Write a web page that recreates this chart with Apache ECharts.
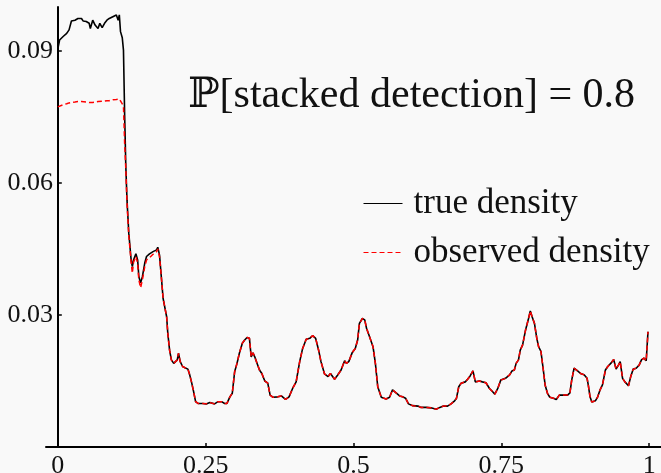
<!DOCTYPE html>
<html>
<head>
<meta charset="utf-8">
<style>
  html, body { margin: 0; padding: 0; background: #f9f9f9; }
  #chart { width: 661px; height: 473px; }
</style>
<script src="https://cdn.jsdelivr.net/npm/echarts@6/dist/echarts.min.js"></script>
</head>
<body>
<div id="chart"></div>
<script>
// Position on the unit interval
const xs = [
  0.000,0.003,0.009,0.015,0.019,0.023,0.029,0.034,0.037,0.040,
  0.043,0.048,0.053,0.055,0.059,0.063,0.065,0.068,0.071,0.075,
  0.079,0.083,0.087,0.090,0.093,0.096,0.099,0.102,0.104,0.106,
  0.109,0.111,0.113,0.115,0.117,0.120,0.124,0.126,0.128,0.132,
  0.135,0.137,0.140,0.143,0.147,0.150,0.153,0.155,0.158,0.161,
  0.164,0.167,0.169,0.172,0.175,0.178,0.181,0.184,0.186,0.189,
  0.192,0.196,0.199,0.202,0.204,0.207,0.211,0.215,0.220,0.223,
  0.226,0.229,0.233,0.237,0.245,0.251,0.257,0.265,0.271,0.277,
  0.282,0.286,0.291,0.295,0.299,0.303,0.307,0.312,0.316,0.320,
  0.324,0.327,0.330,0.333,0.337,0.341,0.345,0.350,0.355,0.359,
  0.364,0.372,0.378,0.385,0.391,0.397,0.403,0.409,0.414,0.420,
  0.426,0.431,0.436,0.441,0.445,0.451,0.457,0.461,0.464,0.468,
  0.473,0.479,0.485,0.488,0.492,0.498,0.503,0.507,0.510,0.515,
  0.519,0.522,0.527,0.533,0.537,0.541,0.547,0.555,0.561,0.566,
  0.572,0.578,0.583,0.588,0.593,0.600,0.609,0.614,0.623,0.631,
  0.640,0.646,0.652,0.659,0.665,0.671,0.674,0.678,0.682,0.689,
  0.693,0.697,0.702,0.706,0.713,0.718,0.724,0.730,0.735,0.739,
  0.744,0.749,0.757,0.764,0.768,0.772,0.775,0.779,0.782,0.786,
  0.789,0.791,0.796,0.799,0.802,0.806,0.810,0.813,0.817,0.821,
  0.824,0.828,0.832,0.838,0.843,0.848,0.851,0.856,0.862,0.866,
  0.869,0.873,0.879,0.884,0.890,0.895,0.897,0.900,0.903,0.909,
  0.913,0.917,0.921,0.926,0.930,0.935,0.940,0.944,0.948,0.951,
  0.955,0.959,0.965,0.969,0.973,0.978,0.983,0.987,0.991,0.995,
  0.998
];

// True density
const trueDensity = [
  0.0905,0.0925,0.0933,0.0940,0.0948,0.0968,0.0970,0.0974,0.0970,0.0974,
  0.0968,0.0967,0.0963,0.0951,0.0970,0.0959,0.0963,0.0951,0.0963,0.0953,
  0.0963,0.0970,0.0974,0.0970,0.0978,0.0974,0.0982,0.0970,0.0982,0.0944,
  0.0930,0.0902,0.0755,0.0637,0.0561,0.0486,0.0425,0.0410,0.0425,0.0439,
  0.0425,0.0387,0.0373,0.0387,0.0418,0.0433,0.0433,0.0439,0.0437,0.0444,
  0.0442,0.0448,0.0454,0.0436,0.0387,0.0338,0.0334,0.0296,0.0258,0.0220,
  0.0198,0.0190,0.0186,0.0198,0.0213,0.0194,0.0183,0.0180,0.0177,0.0164,
  0.0148,0.0130,0.0103,0.0099,0.0099,0.0098,0.0101,0.0098,0.0103,0.0103,
  0.0099,0.0099,0.0114,0.0122,0.0171,0.0190,0.0213,0.0236,0.0243,0.0249,
  0.0247,0.0205,0.0214,0.0205,0.0190,0.0175,0.0167,0.0150,0.0145,0.0118,
  0.0113,0.0114,0.0116,0.0108,0.0114,0.0133,0.0148,0.0194,0.0224,0.0245,
  0.0247,0.0253,0.0247,0.0220,0.0194,0.0166,0.0160,0.0167,0.0163,0.0154,
  0.0163,0.0175,0.0196,0.0190,0.0194,0.0215,0.0224,0.0243,0.0281,0.0292,
  0.0289,0.0270,0.0251,0.0228,0.0190,0.0137,0.0113,0.0109,0.0113,0.0130,
  0.0123,0.0116,0.0114,0.0111,0.0098,0.0094,0.0093,0.0090,0.0090,0.0089,
  0.0086,0.0090,0.0093,0.0093,0.0098,0.0105,0.0110,0.0137,0.0145,0.0148,
  0.0154,0.0161,0.0173,0.0148,0.0150,0.0148,0.0146,0.0133,0.0126,0.0120,
  0.0133,0.0152,0.0156,0.0164,0.0173,0.0175,0.0190,0.0198,0.0220,0.0232,
  0.0236,0.0266,0.0292,0.0309,0.0296,0.0281,0.0247,0.0228,0.0217,0.0175,
  0.0141,0.0122,0.0113,0.0111,0.0108,0.0118,0.0122,0.0118,0.0118,0.0123,
  0.0152,0.0179,0.0173,0.0167,0.0164,0.0156,0.0141,0.0114,0.0102,0.0105,
  0.0114,0.0130,0.0141,0.0175,0.0183,0.0190,0.0199,0.0177,0.0186,0.0194,
  0.0156,0.0148,0.0139,0.0161,0.0177,0.0179,0.0186,0.0198,0.0202,0.0196,
  0.0262
];

// Observed density
const observedDensity = [
  0.0773,0.0775,0.0778,0.0780,0.0782,0.0783,0.0784,0.0785,0.0785,0.0785,
  0.0784,0.0784,0.0783,0.0782,0.0783,0.0784,0.0784,0.0785,0.0785,0.0786,
  0.0786,0.0787,0.0787,0.0788,0.0789,0.0789,0.0790,0.0791,0.0791,0.0789,
  0.0780,0.0775,0.0690,0.0630,0.0555,0.0480,0.0420,0.0395,0.0420,0.0433,
  0.0418,0.0380,0.0362,0.0380,0.0410,0.0425,0.0428,0.0430,0.0432,0.0438,
  0.0440,0.0444,0.0450,0.0432,0.0387,0.0338,0.0334,0.0296,0.0258,0.0220,
  0.0198,0.0190,0.0186,0.0198,0.0213,0.0194,0.0183,0.0180,0.0177,0.0164,
  0.0148,0.0130,0.0103,0.0099,0.0099,0.0098,0.0101,0.0098,0.0103,0.0103,
  0.0099,0.0099,0.0114,0.0122,0.0171,0.0190,0.0213,0.0236,0.0243,0.0249,
  0.0247,0.0205,0.0214,0.0205,0.0190,0.0175,0.0167,0.0150,0.0145,0.0118,
  0.0113,0.0114,0.0116,0.0108,0.0114,0.0133,0.0148,0.0194,0.0224,0.0245,
  0.0247,0.0253,0.0247,0.0220,0.0194,0.0166,0.0160,0.0167,0.0163,0.0154,
  0.0163,0.0175,0.0196,0.0190,0.0194,0.0215,0.0224,0.0243,0.0281,0.0292,
  0.0289,0.0270,0.0251,0.0228,0.0190,0.0137,0.0113,0.0109,0.0113,0.0130,
  0.0123,0.0116,0.0114,0.0111,0.0098,0.0094,0.0093,0.0090,0.0090,0.0089,
  0.0086,0.0090,0.0093,0.0093,0.0098,0.0105,0.0110,0.0137,0.0145,0.0148,
  0.0154,0.0161,0.0173,0.0148,0.0150,0.0148,0.0146,0.0133,0.0126,0.0120,
  0.0133,0.0152,0.0156,0.0164,0.0173,0.0175,0.0190,0.0198,0.0220,0.0232,
  0.0236,0.0266,0.0292,0.0309,0.0296,0.0281,0.0247,0.0228,0.0217,0.0175,
  0.0141,0.0122,0.0113,0.0111,0.0108,0.0118,0.0122,0.0118,0.0118,0.0123,
  0.0152,0.0179,0.0173,0.0167,0.0164,0.0156,0.0141,0.0114,0.0102,0.0105,
  0.0114,0.0130,0.0141,0.0175,0.0183,0.0190,0.0199,0.0177,0.0186,0.0194,
  0.0156,0.0148,0.0139,0.0161,0.0177,0.0179,0.0186,0.0198,0.0202,0.0196,
  0.0262
];

const xTicks = [0, 0.25, 0.5, 0.75, 1];
const yTicks = [0.03, 0.06, 0.09];
const seriesNames = ['true density', 'observed density'];
const titleText = 'ℙ[stacked detection] = 0.8';

const pairs = ys => xs.map((x, i) => [x, ys[i]]);

const serif = '"Liberation Serif", "DejaVu Serif", serif';
const chart = echarts.init(document.getElementById('chart'), null, { renderer: 'canvas' });

chart.setOption({
  backgroundColor: '#f9f9f9',
  animation: false,
  grid: { left: 46, right: 0, top: 7, bottom: 26, containLabel: false, outerBoundsMode: 'none' },
  xAxis: {
    type: 'value',
    min: -0.02,
    max: 1.02,
    splitLine: { show: false },
    axisLine: { show: true, onZero: true, lineStyle: { color: '#000', width: 2 } },
    axisTick: { show: true, inside: true, length: 4, customValues: xTicks, lineStyle: { color: '#000', width: 1.5 } },
    axisLabel: {
      customValues: xTicks,
      formatter: v => String(v),
      color: '#111', fontFamily: serif, fontSize: 26, margin: 6
    }
  },
  yAxis: {
    type: 'value',
    min: 0,
    max: 0.1,
    splitLine: { show: false },
    axisLine: { show: true, onZero: true, lineStyle: { color: '#000', width: 2 } },
    axisTick: { show: true, inside: true, length: 4, customValues: yTicks, lineStyle: { color: '#000', width: 1.5 } },
    axisLabel: {
      customValues: yTicks,
      formatter: v => String(v),
      color: '#111', fontFamily: serif, fontSize: 26, margin: -7
    }
  },
  legend: {
    orient: 'vertical',
    left: 363,
    top: 186,
    padding: 0,
    itemWidth: 39,
    itemHeight: 14,
    itemGap: 14,
    data: [
      { name: seriesNames[0] },
      { name: seriesNames[1] }
    ],
    itemStyle: { opacity: 0 },
    lineStyle: { width: 1 },
    textStyle: { color: '#111', fontFamily: serif, fontSize: 35, lineHeight: 34, padding: [0, 0, 0, 6] }
  },
  graphic: [{
    type: 'text',
    left: 188,
    top: 75,
    style: { text: titleText, fill: '#111', font: '42px ' + serif }
  }],
  series: [
    {
      name: seriesNames[0],
      type: 'line',
      data: pairs(trueDensity),
      showSymbol: false,
      symbol: 'none',
      lineStyle: { color: '#000', width: 1.6 },
      itemStyle: { color: '#000' },
      z: 2
    },
    {
      name: seriesNames[1],
      type: 'line',
      data: pairs(observedDensity),
      showSymbol: false,
      symbol: 'none',
      lineStyle: { color: '#ff0000', width: 1.5, type: [5, 3] },
      itemStyle: { color: '#ff0000' },
      z: 3
    }
  ]
});
</script>
</body>
</html>
